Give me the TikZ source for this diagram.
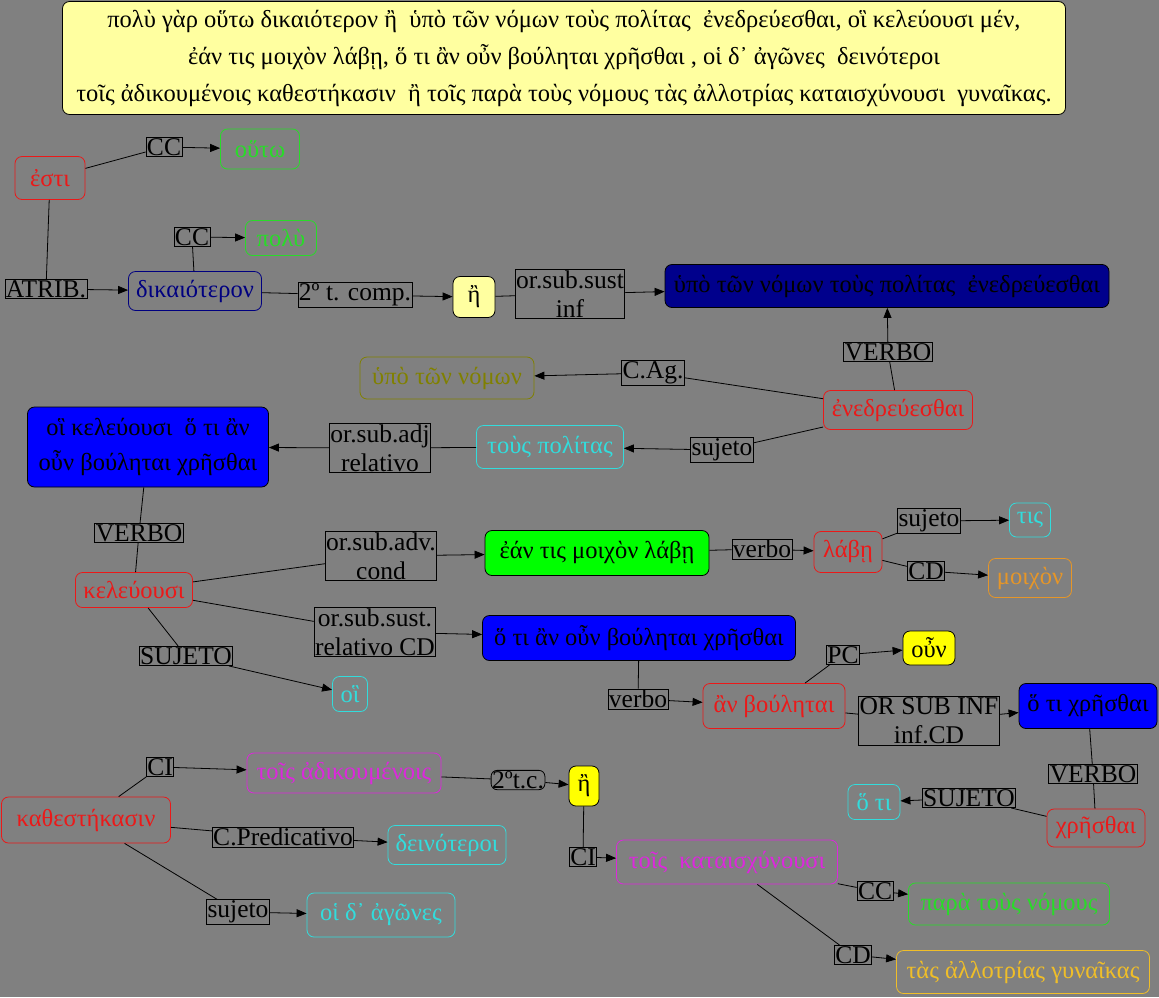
\documentclass[tikz,border=0pt]{standalone}
\usepackage{fontspec}
\setmainfont{Liberation Serif}
\usetikzlibrary{arrows.meta}
\definecolor{fondo}{RGB}{128,128,128}
\definecolor{rojo}{RGB}{235,25,25}
\definecolor{verde}{RGB}{40,220,40}
\definecolor{marino}{RGB}{0,0,128}
\definecolor{oliva}{RGB}{128,128,0}
\definecolor{cian}{RGB}{50,220,220}
\definecolor{morado}{RGB}{220,40,220}
\definecolor{naranja}{RGB}{230,150,40}
\definecolor{oro}{RGB}{240,190,40}
\definecolor{amarclaro}{RGB}{255,255,160}
\definecolor{amarillo}{RGB}{255,255,0}
\definecolor{verdefuerte}{RGB}{0,255,0}
\definecolor{azul}{RGB}{0,0,255}
\definecolor{azulosc}{RGB}{0,0,140}
\tikzset{>={Triangle[length=10pt,width=8pt]}}
\tikzset{rel/.style = {draw, inner sep=1pt, align=center, line width=0.8pt,
                       font=\fontsize{25.5}{29}\selectfont}}
\tikzset{wrd/.style = {draw=#1, text=#1, rounded corners=7pt, inner sep=2pt,
                       line width=0.8pt, font=\fontsize{24.5}{29}\selectfont}}
\tikzset{caja/.style = {fill=#1, draw=black, rounded corners=7pt, inner sep=2pt,
                        line width=0.8pt, align=center, font=\fontsize{24.5}{35}\selectfont}}

\begin{document}
\begin{tikzpicture}[x=1pt,y=-1pt]
    \fill[fondo] (0,0) rectangle (1159,997);
    \useasboundingbox (0,0) rectangle (1159,997);
    \node[caja=amarclaro, minimum width=1003, minimum height=113,
          font=\fontsize{24.5}{37}\selectfont] (tit) at (564,58)
      {πολὺ γὰρ οὕτω δικαιότερον ἢ \ ὑπὸ τῶν νόμων τοὺς πολίτας \ ἐνεδρεύεσθαι, οἳ κελεύουσι μέν,\\
       ἐάν τις μοιχὸν λάβῃ, ὅ τι ἂν οὖν βούληται χρῆσθαι , οἱ δ᾽ ἀγῶνες \ δεινότεροι\\
       τοῖς ἀδικουμένοις καθεστήκασιν \ ἢ τοῖς παρὰ τοὺς νόμους τὰς ἀλλοτρίας καταισχύνουσι \ γυναῖκας.};
    % upper part
    \node[wrd=rojo, minimum width=70, minimum height=43] (esti) at (50,178) {ἐστι};
    \node[rel] (cc1) at (164,147) {CC};
    \node[wrd=verde, minimum width=79, minimum height=40] (houto) at (260,149) {οὕτω};
    \node[rel] (atrib) at (46,289) {ATRIB.};
    \node[wrd=marino, minimum width=133, minimum height=39] (dik) at (195,291) {δικαιότερον};
    \node[rel] (cc2) at (192,237) {CC};
    \node[wrd=verde, minimum width=71, minimum height=35] (polu) at (281,238) {πολὺ};
    \node[rel] (comp) at (355,295) {2º t. comp.};
    \node[caja=amarclaro, minimum width=42, minimum height=41] (e1) at (474,297) {ἢ};
    \node[rel] (sust1) at (570,294) {or.sub.sust\\inf};
    \node[caja=azulosc, minimum width=444, minimum height=43] (hypoall) at (887,286)
      {ὑπὸ τῶν νόμων τοὺς πολίτας \ ἐνεδρεύεσθαι};
    \node[rel] (verbo1) at (888,352) {VERBO};
    \node[wrd=rojo, minimum width=149, minimum height=39] (ened) at (898,410) {ἐνεδρεύεσθαι};
    \node[rel] (cag) at (653,373) {C.Ag.};
    \node[wrd=oliva, minimum width=174, minimum height=42] (hypo) at (447,378) {ὑπὸ τῶν νόμων};
    \node[rel] (suj1) at (722,450) {sujeto};
    \node[wrd=cian, minimum width=147, minimum height=43] (polit) at (550,447) {τοὺς πολίτας};
    \node[rel] (adj) at (380,448) {or.sub.adj\\relativo};
    \node[caja=azul, minimum width=241, minimum height=80] (hoi1) at (148,447)
      {οἳ κελεύουσι \ ὅ τι ἂν\\οὖν βούληται χρῆσθαι};
    % middle part
    \node[rel] (verbo2) at (139,533) {VERBO};
    \node[wrd=rojo, minimum width=117, minimum height=35] (keleu) at (134,590) {κελεύουσι};
    \node[rel] (suj2) at (186,656) {SUJETO};
    \node[wrd=cian, minimum width=35, minimum height=35] (hoi2) at (350,694) {οἳ};
    \node[rel] (adv) at (381,556) {or.sub.adv.\\cond};
    \node[caja=verdefuerte, minimum width=224, minimum height=45] (ean) at (597,553) {ἐάν τις μοιχὸν λάβῃ};
    \node[rel] (vb1) at (762,549) {verbo};
    \node[wrd=rojo, minimum width=68, minimum height=41] (labe) at (848,552) {λάβῃ};
    \node[rel] (suj3) at (929,521) {sujeto};
    \node[wrd=cian, minimum width=41, minimum height=34] (tis) at (1030,520) {τις};
    \node[rel] (cd1) at (926,571) {CD};
    \node[wrd=naranja, minimum width=83, minimum height=39] (moich) at (1030,578) {μοιχὸν};
    \node[rel] (sust2) at (375,632) {or.sub.sust.\\relativo CD};
    \node[caja=azul, minimum width=313, minimum height=45] (hoti1) at (639,638) {ὅ τι ἂν οὖν βούληται χρῆσθαι};
    \node[rel] (vb2) at (638,699) {verbo};
    \node[wrd=rojo, minimum width=142, minimum height=45] (anb) at (774,706) {ἂν βούληται};
    \node[rel] (pc) at (843,655) {PC};
    \node[caja=amarillo, minimum width=52, minimum height=34] (oun) at (929,648) {οὖν};
    \node[rel] (inf) at (929,721) {OR SUB INF\\inf.CD};
    \node[caja=azul, minimum width=138, minimum height=45] (hoti2) at (1088,706) {ὅ τι χρῆσθαι};
    \node[rel] (verbo3) at (1093,774) {VERBO};
    \node[wrd=rojo, minimum width=98, minimum height=38] (chres) at (1096,828) {χρῆσθαι};
    \node[rel] (suj4) at (969,798) {SUJETO};
    \node[wrd=cian, minimum width=52, minimum height=35] (hoti3) at (874,802) {ὅ τι};
    % lower part
    \node[wrd=rojo, minimum width=169, minimum height=46] (kath) at (86,820) {καθεστήκασιν};
    \node[rel] (ci1) at (160,767) {CI};
    \node[wrd=morado, minimum width=194, minimum height=40] (adik) at (344,773) {τοῖς ἀδικουμένοις};
    \node[rel, rounded corners=6pt] (tc) at (518,780) {2ºt.c.};
    \node[caja=amarillo, minimum width=30, minimum height=40] (e2) at (584,786) {ἢ};
    \node[rel] (ci2) at (583,857) {CI};
    \node[wrd=morado, minimum width=221, minimum height=44] (katai) at (727,862) {τοῖς \ καταισχύνουσι};
    \node[rel] (cc3) at (875,891) {CC};
    \node[wrd=verde, minimum width=201, minimum height=42] (para) at (1009,904) {παρὰ τοὺς νόμους};
    \node[rel] (cd2) at (853,955) {CD};
    \node[wrd=oro, minimum width=253, minimum height=43] (tas) at (1023,972) {τὰς ἀλλοτρίας γυναῖκας};
    \node[rel] (cpred) at (283,837) {C.Predicativo};
    \node[wrd=cian, minimum width=118, minimum height=39] (dein) at (447,845) {δεινότεροι};
    \node[rel] (suj5) at (238,912) {sujeto};
    \node[wrd=cian, minimum width=148, minimum height=44] (agon) at (381,915) {οἱ δ᾽ ἀγῶνες};
    % connectors
    \begin{scope}[line width=0.8pt]
      \draw (esti) -- (cc1);
      \draw[->] (cc1) -- (houto);
      \draw (esti) -- (atrib);
      \draw[->] (atrib) -- (dik);
      \draw (dik) -- (cc2);
      \draw[->] (cc2) -- (polu);
      \draw (dik) -- (comp);
      \draw[->] (comp) -- (e1);
      \draw (e1) -- (sust1);
      \draw[->] (sust1) -- (hypoall);
      \draw (ened) -- (verbo1);
      \draw[->] (verbo1) -- (hypoall);
      \draw (ened) -- (cag);
      \draw[->] (cag) -- (hypo);
      \draw (ened) -- (suj1);
      \draw[->] (suj1) -- (polit);
      \draw (polit) -- (adj);
      \draw[->] (adj) -- (hoi1);
      \draw (hoi1) -- (verbo2);
      \draw (verbo2) -- (keleu);
      \draw (keleu) -- (suj2);
      \draw[->] (suj2) -- (hoi2);
      \draw (keleu) -- (adv);
      \draw[->] (adv) -- (ean);
      \draw (keleu) -- (sust2);
      \draw[->] (sust2) -- (hoti1);
      \draw (ean) -- (vb1);
      \draw[->] (vb1) -- (labe);
      \draw (labe) -- (suj3);
      \draw[->] (suj3) -- (tis);
      \draw (labe) -- (cd1);
      \draw[->] (cd1) -- (moich);
      \draw (hoti1) -- (vb2);
      \draw[->] (vb2) -- (anb);
      \draw (anb) -- (pc);
      \draw[->] (pc) -- (oun);
      \draw (anb) -- (inf);
      \draw[->] (inf) -- (hoti2);
      \draw (hoti2) -- (verbo3);
      \draw (verbo3) -- (chres);
      \draw (chres) -- (suj4);
      \draw[->] (suj4) -- (hoti3);
      \draw (kath) -- (ci1);
      \draw[->] (ci1) -- (adik);
      \draw (adik) -- (tc);
      \draw[->] (tc) -- (e2);
      \draw (e2) -- (ci2);
      \draw[->] (ci2) -- (katai);
      \draw (katai) -- (cc3);
      \draw[->] (cc3) -- (para);
      \draw (katai) -- (cd2);
      \draw[->] (cd2) -- (tas);
      \draw (kath) -- (cpred);
      \draw[->] (cpred) -- (dein);
      \draw (kath) -- (suj5);
      \draw[->] (suj5) -- (agon);
    \end{scope}
\end{tikzpicture}
\end{document}
